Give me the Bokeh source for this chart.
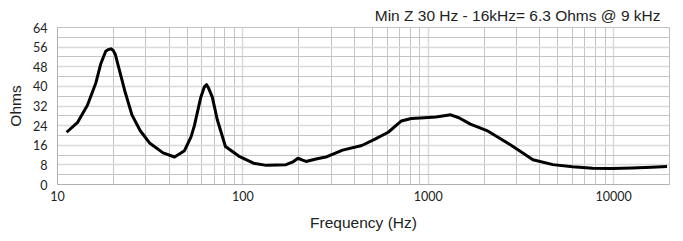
from bokeh.plotting import figure
from bokeh.models import LogTicker, SingleIntervalTicker, Range1d, FixedTicker
from bokeh.embed import file_html
from bokeh.resources import INLINE

freq_hz = [11.2, 12.8, 14.5, 16.1, 17.1, 18.2, 18.8, 19.4, 20.0, 20.5, 21.8, 23.2, 25.2, 27.9, 31.5,
           37.1, 42.8, 48.4, 52.5, 54.7, 59.3, 62.0, 63.6, 65.2, 68.4, 72.7, 80.5, 94.9, 114, 134,
           171, 186, 198, 210, 219, 248, 280, 345, 438, 516, 608, 716, 809, 953, 1099,
           1321, 1462, 1687, 2070, 2865, 3667, 4700, 6000, 7700, 9800, 12500, 16000, 19400]
impedance_ohms = [21.3, 25.2, 32.3, 41.4, 49.1, 54.3, 55.0, 55.3, 54.6, 53.0, 45.3, 37.5, 28.4, 22.0, 16.8,
                  12.9, 11.2, 13.8, 19.4, 23.9, 35.6, 39.8, 40.7, 39.4, 35.6, 26.5, 15.5, 11.6, 8.7, 7.8,
                  8.1, 9.2, 10.7, 9.9, 9.4, 10.4, 11.2, 14.0, 15.9, 18.5, 21.3, 25.9, 26.9, 27.2, 27.5,
                  28.4, 27.2, 24.6, 22.0, 15.5, 10.1, 8.1, 7.2, 6.6, 6.5, 6.7, 7.0, 7.3]
x_tick_values = [10, 100, 1000, 10000]
title_text = "Min Z 30 Hz - 16kHz= 6.3 Ohms @ 9 kHz"

p = figure(width=675, height=233, x_axis_type="log", output_backend="svg",
           toolbar_location=None, x_range=Range1d(10, 20000), y_range=Range1d(0, 64),
           min_border_left=57, min_border_right=6, min_border_bottom=30, min_border_top=0)

p.title.text = title_text
p.title.align = "right"
p.title.text_font = "Liberation Sans"
p.title.text_font_size = "15.5px"
p.title.text_font_style = "normal"
p.title.text_color = "#222222"
p.title.standoff = 8
p.title.offset = 9

p.line(freq_hz, impedance_ohms, line_color="black", line_width=3, line_join="round")

p.xaxis.ticker = FixedTicker(ticks=x_tick_values)
p.xgrid.ticker = LogTicker(num_minor_ticks=10)
p.yaxis.ticker = SingleIntervalTicker(interval=8, num_minor_ticks=2)
p.ygrid.ticker = SingleIntervalTicker(interval=8, num_minor_ticks=2)

for g in (p.xgrid, p.ygrid):
    g.grid_line_color = "#d9d9d9"
    g.grid_line_width = 1.5
    g.minor_grid_line_color = "#c4c4c4"
    g.minor_grid_line_width = 1

for ax in (p.xaxis, p.yaxis):
    ax.axis_line_color = "#b0b0b0"
    ax.axis_line_width = 1
    ax.major_tick_line_color = None
    ax.minor_tick_line_color = None
    ax.major_tick_out = 0
    ax.major_tick_in = 0
    ax.minor_tick_out = 0
    ax.minor_tick_in = 0
    ax.major_label_text_font = "Lato"
    ax.major_label_text_font_size = "12.5px"
    ax.major_label_text_color = "#222222"
    ax.axis_label_text_font = "Liberation Sans"
    ax.axis_label_text_font_size = "15.5px"
    ax.axis_label_text_font_style = "normal"
    ax.axis_label_text_color = "#222222"

p.xaxis.axis_label = "Frequency (Hz)"
p.yaxis.axis_label = "Ohms"
p.xaxis.major_label_standoff = 6
p.xaxis.axis_label_standoff = 10
p.yaxis.major_label_standoff = 10
p.yaxis.axis_label_standoff = 6
p.xaxis.major_label_overrides = {10: "10", 100: "100", 1000: "1000", 10000: "10000"}

p.outline_line_color = "#bfbfbf"
p.background_fill_color = "white"
p.border_fill_color = "white"

open("out.html", "w").write(file_html(p, INLINE))
